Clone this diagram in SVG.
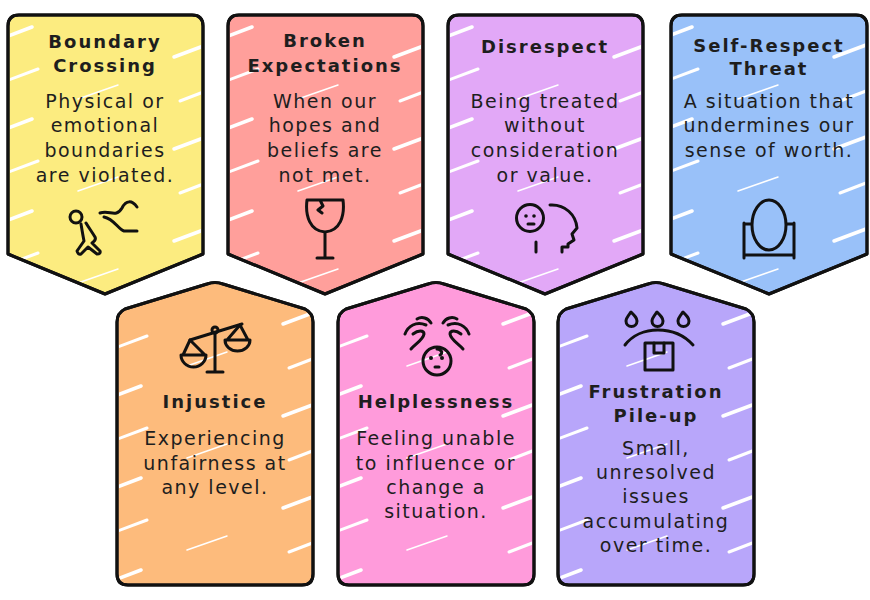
<svg xmlns="http://www.w3.org/2000/svg" width="870" height="600" viewBox="0 0 870 600">
<defs>
<style>
.card{stroke:#111;stroke-width:3;stroke-linejoin:round;}
.t{font-family:"DejaVu Sans","Noto Sans",sans-serif;font-size:18px;font-weight:bold;fill:#1e1e1e;text-anchor:middle;letter-spacing:2px;}
.b{font-family:"DejaVu Sans","Noto Sans",sans-serif;font-size:19px;fill:#1e1e1e;text-anchor:middle;letter-spacing:1.5px;}
.ic{fill:none;stroke:#111;stroke-width:3;stroke-linecap:round;stroke-linejoin:round;}
.dot{fill:#111;}
</style>
<g id="streaks">
<g stroke="#fff" stroke-linecap="round" fill="none">
<line x1="-2" y1="22" x2="24" y2="12" stroke-width="3.5"/>
<line x1="-2" y1="66" x2="30" y2="54" stroke-width="3"/>
<line x1="166" y1="42" x2="198" y2="30" stroke-width="3.5"/>
<line x1="172" y1="86" x2="198" y2="76" stroke-width="3"/>
<line x1="70" y1="84" x2="110" y2="70" stroke-width="1.5"/>
</g>
</g>
<pattern id="hatchTop" patternUnits="userSpaceOnUse" x="8" y="15" width="220" height="92">
<use href="#streaks"/>
</pattern>
<pattern id="hatchBot" patternUnits="userSpaceOnUse" x="117" y="282" width="220" height="92">
<use href="#streaks"/>
</pattern>
</defs>
<rect width="870" height="600" fill="#fff"/>

<g id="connectors"></g>

<g id="boundary-crossing">
<path class="card" fill="#FCEC80" d="M8 26 Q8 15 19 15 L192 15 Q203 15 203 26 L203 254 L105 294 L8 254 Z"/>
<path fill="url(#hatchTop)" d="M10 26 Q10 17 19 17 L192 17 Q201 17 201 26 L201 253 L105 292 L10 253 Z"/>
<path class="card" fill="none" d="M8 26 Q8 15 19 15 L192 15 Q203 15 203 26 L203 254 L105 294 L8 254 Z"/>
<text class="t" x="105" y="48">Boundary</text>
<text class="t" x="105" y="72">Crossing</text>
<text class="b" x="105" y="108">Physical or</text>
<text class="b" x="105" y="132">emotional</text>
<text class="b" x="105" y="157">boundaries</text>
<text class="b" x="105" y="182">are violated.</text>
<circle class="ic" cx="76" cy="217" r="6"/>
<path class="ic" d="M81 224 C82 230 83 236 84 241 L77 251 Q78 255 81 254 L88 247 L97 254 Q101 254 100 251 L92 243 C95 241 96 239 95 237 C92 232 89 228 86 223"/>
<path class="ic" d="M100 213 C110 210 116 218 122 208 C126 200 132 200 137 207 M104 217 C114 219 118 229 124 231 L137 231"/>
</g>

<g id="broken-expectations">
<path class="card" fill="#FF9F9B" d="M228 26 Q228 15 239 15 L412 15 Q423 15 423 26 L423 254 L325 294 L228 254 Z"/>
<path fill="url(#hatchTop)" d="M230 26 Q230 17 239 17 L412 17 Q421 17 421 26 L421 253 L325 292 L230 253 Z"/>
<path class="card" fill="none" d="M228 26 Q228 15 239 15 L412 15 Q423 15 423 26 L423 254 L325 294 L228 254 Z"/>
<text class="t" x="325" y="47">Broken</text>
<text class="t" x="325" y="72">Expectations</text>
<text class="b" x="325" y="108">When our</text>
<text class="b" x="325" y="132">hopes and</text>
<text class="b" x="325" y="157">beliefs are</text>
<text class="b" x="325" y="182">not met.</text>
<path class="ic" d="M307 200 L343 200 C345 216 340 231 325 232 C310 231 305 216 307 200 Z M325 232 L325 258 M317 258 L333 258 M320 200 L323 206 L318 210 L322 213"/>
</g>

<g id="disrespect">
<path class="card" fill="#E2A8F7" d="M448 26 Q448 15 459 15 L632 15 Q643 15 643 26 L643 254 L545 294 L448 254 Z"/>
<path fill="url(#hatchTop)" d="M450 26 Q450 17 459 17 L632 17 Q641 17 641 26 L641 253 L545 292 L450 253 Z"/>
<path class="card" fill="none" d="M448 26 Q448 15 459 15 L632 15 Q643 15 643 26 L643 254 L545 294 L448 254 Z"/>
<text class="t" x="545" y="53">Disrespect</text>
<text class="b" x="545" y="108">Being treated</text>
<text class="b" x="545" y="132">without</text>
<text class="b" x="545" y="157">consideration</text>
<text class="b" x="545" y="182">or value.</text>
<circle class="ic" cx="530" cy="218" r="13.5"/>
<circle class="dot" cx="526" cy="216" r="1.8"/>
<circle class="dot" cx="534" cy="216" r="1.8"/>
<path class="ic" d="M528 224 L534 224"/>
<path class="ic" d="M536 242 L536 252"/>
<path class="ic" d="M550 205 C565 204 576 215 577 228 L572 234 L574 240 L568 244 L568 247 L562 247 L562 252"/>
</g>

<g id="self-respect-threat">
<path class="card" fill="#99C1F9" d="M671 26 Q671 15 682 15 L856 15 Q867 15 867 26 L867 254 L769 294 L671 254 Z"/>
<path fill="url(#hatchTop)" d="M673 26 Q673 17 682 17 L856 17 Q865 17 865 26 L865 253 L769 292 L673 253 Z"/>
<path class="card" fill="none" d="M671 26 Q671 15 682 15 L856 15 Q867 15 867 26 L867 254 L769 294 L671 254 Z"/>
<text class="t" x="769" y="52">Self-Respect</text>
<text class="t" x="769" y="75">Threat</text>
<text class="b" x="769" y="108">A situation that</text>
<text class="b" x="769" y="132">undermines our</text>
<text class="b" x="769" y="157">sense of worth.</text>
<ellipse class="ic" cx="769" cy="225" rx="17" ry="25"/>
<path class="ic" d="M744 223 L744 258 M794 223 L794 258 M744 224 L751 224 M787 224 L794 224 M744 255 L794 255"/>
</g>

<g id="injustice">
<path class="card" fill="#FDBB7C" d="M117 322 Q117 313 125 309 L207 284 Q215 281 223 284 L305 309 Q313 313 313 322 L313 574 Q313 585 302 585 L128 585 Q117 585 117 574 Z"/>
<path fill="url(#hatchBot)" d="M119 322 Q119 314 126 311 L207 286 Q215 283 223 286 L304 311 Q311 314 311 322 L311 574 Q311 583 302 583 L128 583 Q119 583 119 574 Z"/>
<path class="card" fill="none" d="M117 322 Q117 313 125 309 L207 284 Q215 281 223 284 L305 309 Q313 313 313 322 L313 574 Q313 585 302 585 L128 585 Q117 585 117 574 Z"/>
<path class="ic" d="M215 332 L215 372 M207 372 L223 372 M190 340 L242 324"/>
<circle class="ic" cx="215" cy="330" r="3" fill="#FDBB7C"/>
<path class="ic" d="M190 340 L183 355 M190 340 L205 355 M181 355 L206 355 A12.5 12 0 0 1 181 355 Z"/>
<path class="ic" d="M240 325 L227 340 M240 325 L248 340 M225 340 L250 340 A12.5 11 0 0 1 225 340 Z"/>
<text class="t" x="215" y="408">Injustice</text>
<text class="b" x="215" y="445">Experiencing</text>
<text class="b" x="215" y="470">unfairness at</text>
<text class="b" x="215" y="494">any level.</text>
</g>

<g id="helplessness">
<path class="card" fill="#FF9BDB" d="M338 322 Q338 313 346 309 L428 284 Q436 281 444 284 L526 309 Q534 313 534 322 L534 574 Q534 585 523 585 L349 585 Q338 585 338 574 Z"/>
<path fill="url(#hatchBot)" d="M340 322 Q340 314 347 311 L428 286 Q436 283 444 286 L525 311 Q532 314 532 322 L532 574 Q532 583 523 583 L349 583 Q340 583 340 574 Z"/>
<path class="card" fill="none" d="M338 322 Q338 313 346 309 L428 284 Q436 281 444 284 L526 309 Q534 313 534 322 L534 574 Q534 585 523 585 L349 585 Q338 585 338 574 Z"/>
<circle class="ic" cx="437" cy="361" r="14"/>
<circle class="dot" cx="431" cy="358" r="2"/>
<circle class="dot" cx="442" cy="358" r="2"/>
<path class="ic" d="M435 367 L439 367 M437 349 C442 349 443 354 440 355"/>
<path class="ic" d="M405 334 C408 326 416 321 426 325 M413 334 C418 330 424 330 424 334 C423 340 416 343 411 349 M417 319 C422 316 428 318 431 323"/>
<path class="ic" d="M469 334 C466 326 458 321 448 325 M461 334 C456 330 450 330 450 334 C451 340 458 343 463 349 M457 319 C452 316 446 318 443 323"/>
<text class="t" x="436" y="408">Helplessness</text>
<text class="b" x="436" y="445">Feeling unable</text>
<text class="b" x="436" y="470">to influence or</text>
<text class="b" x="436" y="494">change a</text>
<text class="b" x="436" y="518">situation.</text>
</g>

<g id="frustration-pile-up">
<path class="card" fill="#B8A6FA" d="M558 322 Q558 313 566 309 L648 284 Q656 281 664 284 L746 309 Q754 313 754 322 L754 574 Q754 585 743 585 L569 585 Q558 585 558 574 Z"/>
<path fill="url(#hatchBot)" d="M560 322 Q560 314 567 311 L648 286 Q656 283 664 286 L745 311 Q752 314 752 322 L752 574 Q752 583 743 583 L569 583 Q560 583 560 574 Z"/>
<path class="card" fill="none" d="M558 322 Q558 313 566 309 L648 284 Q656 281 664 284 L746 309 Q754 313 754 322 L754 574 Q754 585 743 585 L569 585 Q558 585 558 574 Z"/>
<path class="ic" d="M631 312 C628 316 626 318 626 321 A5.5 5.5 0 0 0 637 321 C637 318 635 316 631 312 Z"/>
<path class="ic" d="M657 312 C654 316 652 318 652 321 A5.5 5.5 0 0 0 663 321 C663 318 661 316 657 312 Z"/>
<path class="ic" d="M683 312 C680 316 678 318 678 321 A5.5 5.5 0 0 0 689 321 C689 318 687 316 683 312 Z"/>
<path class="ic" d="M625 345 C640 325 675 325 693 345"/>
<rect class="ic" x="645" y="343" width="28" height="27"/>
<path class="ic" d="M654 343 L654 353 L664 353 L664 343"/>
<text class="t" x="656" y="398">Frustration</text>
<text class="t" x="656" y="422">Pile-up</text>
<text class="b" x="656" y="455">Small,</text>
<text class="b" x="656" y="479">unresolved</text>
<text class="b" x="656" y="503">issues</text>
<text class="b" x="656" y="528">accumulating</text>
<text class="b" x="656" y="552">over time.</text>
</g>
</svg>
